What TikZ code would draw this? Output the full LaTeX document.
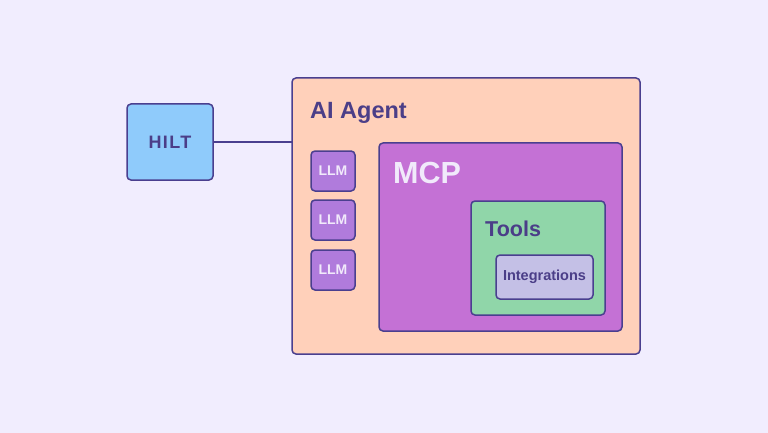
\documentclass[tikz,border=0pt]{standalone}
\usepackage{fontspec}
\setmainfont{Liberation Sans}
\definecolor{bg}{HTML}{F1EDFE}
\definecolor{edge}{HTML}{4A3F8F}
\definecolor{hiltc}{HTML}{8FCBFB}
\definecolor{agentc}{HTML}{FFD0BA}
\definecolor{llmc}{HTML}{B07BDC}
\definecolor{mcpc}{HTML}{C471D5}
\definecolor{toolc}{HTML}{90D6A9}
\definecolor{intc}{HTML}{C4C0E6}
\definecolor{txt}{HTML}{4B3E88}
\definecolor{lighttxt}{HTML}{F1EAFB}
\begin{document}
\begin{tikzpicture}[x=1pt,y=-1pt,
  box/.style={draw=edge,line width=1.5pt,rounded corners=4pt},
  lbl/.style={anchor=base west,inner sep=0pt,font=\bfseries}]
\fill[bg] (0,0) rectangle (768,433);
\useasboundingbox (0,0) rectangle (768,433);
% boxes
\draw[box,fill=hiltc] (127,104) rectangle (213,180);
\node (hilt) at (170,142) [inner sep=0pt,text=txt,font=\bfseries\fontsize{18}{21}\selectfont] {\addfontfeature{LetterSpace=8}HILT};
\coordinate (hiltE) at (213,142);
\draw[box,fill=agentc] (292,78) rectangle (640,354);
\coordinate (agentW) at (292,142);
\draw[edge,line width=1.5pt] (hiltE) -- (agentW);
\node[lbl,text=txt,font=\bfseries\fontsize{23.5}{27}\selectfont] (agent) at (310,119) {AI Agent};
% LLMs
\foreach \y/\n in {151/a,200/b,250/c}{
  \draw[box,fill=llmc] (311,\y) rectangle (355,\y+40);
  \node[text=lighttxt,font=\bfseries\fontsize{14}{16}\selectfont,inner sep=0pt] (llm\n) at (333,\y+20) {LLM};
}
% MCP
\draw[box,fill=mcpc] (379,143) rectangle (622,331);
\node[lbl,text=lighttxt,font=\bfseries\fontsize{30.5}{36}\selectfont] (mcp) at (393,183) {MCP};
% Tools
\draw[box,fill=toolc] (471,201) rectangle (605,315);
\node[lbl,text=txt,font=\bfseries\fontsize{21.5}{26}\selectfont] (tools) at (485,236) {Tools};
% Integrations
\draw[box,fill=intc] (496,255) rectangle (593,299);
\node[text=txt,font=\bfseries\fontsize{14.5}{17}\selectfont,inner sep=0pt] (integ) at (544.5,277) {Integrations};
\end{tikzpicture}
\end{document}
